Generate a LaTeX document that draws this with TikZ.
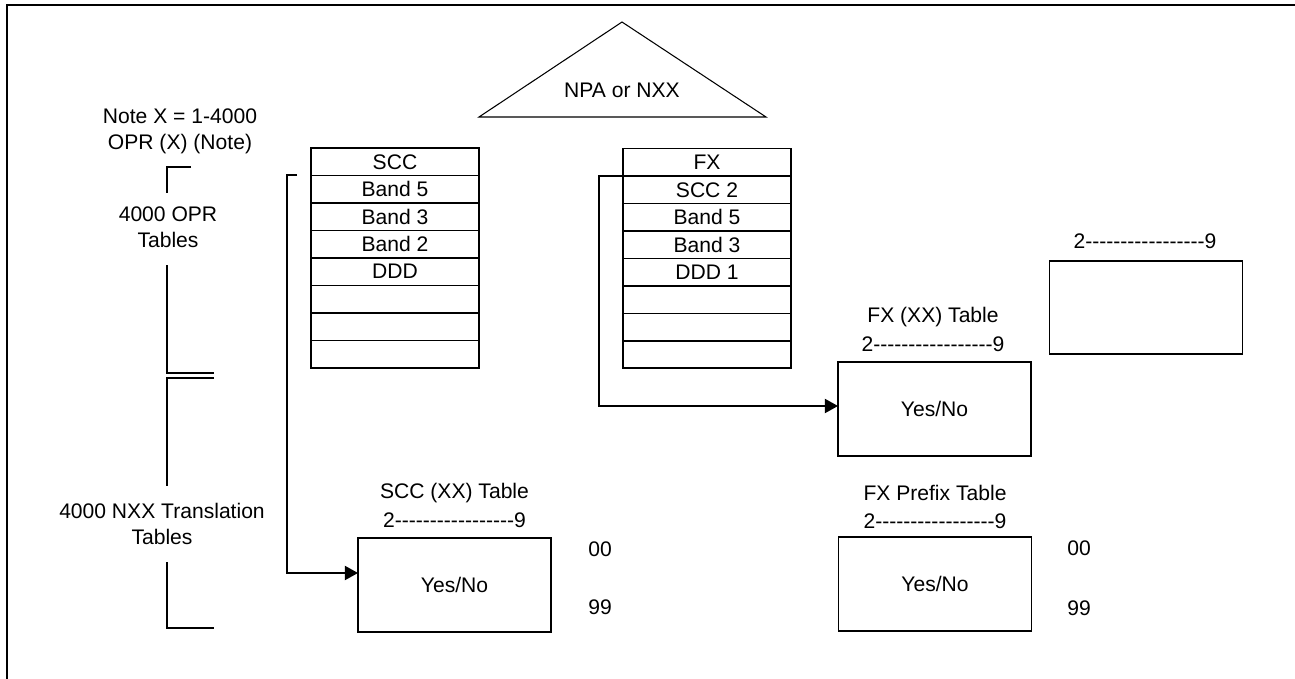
\documentclass[tikz,border=0pt]{standalone}
\usepackage{fontspec}
\setmainfont{Liberation Sans}[Ligatures=TeXOff]
\usetikzlibrary{arrows.meta,calc,positioning}
\tikzset{
  flowarrow/.style={-{Triangle[length=7.5pt,width=8pt]},line width=1.1pt,draw=black},
  frameline/.style={line width=1.2pt,draw=black},
  thinline/.style={line width=0.6pt,draw=black},
  txt/.style={inner sep=0pt,align=center,font=\fontsize{12}{15}\selectfont},
  cell/.style={draw,line width=1.1pt,outer sep=0pt,inner sep=0pt,minimum width=3.36cm,minimum height=0.55cm,
    font=\fontsize{12}{15}\selectfont},
  ynbox/.style={draw,line width=1.1pt,outer sep=0pt,minimum width=3.86cm,minimum height=1.87cm,
    font=\fontsize{12}{15}\selectfont},
}
\begin{document}
\begin{tikzpicture}[x=0.02cm,y=-0.02cm]
    \useasboundingbox (0,0) rectangle (1295,679);
    \draw[frameline] (7,679) -- (7,5) -- (1295,5);

    % selector
    \draw[thinline] (479,117) -- (622,22) -- (766,117) -- cycle;
    \node[txt] (npa) at (622,90) {NPA or NXX};

    % left side notes
    \node[txt] (note) at (180,131) {Note X = 1-4000\\OPR (X) (Note)};
    \node[txt] (oprtext) at (168,227) {4000 OPR\\Tables};
    \node[txt] (nxxtext) at (162,524) {4000 NXX Translation\\Tables};
    \draw[frameline] (191,167) -- (167,167) -- (167,193);
    \draw[frameline] (167,265) -- (167,373) -- (214,373);
    \draw[frameline] (214,378) -- (167,378) -- (167,486);
    \draw[frameline] (167,562) -- (167,628) -- (214,628);

    % SCC table
    \node[cell] (scc1) at (395,161.75) {SCC};
    \node[cell,below=0pt of scc1] (scc2) {Band 5};
    \node[cell,below=0pt of scc2] (scc3) {Band 3};
    \node[cell,below=0pt of scc3] (scc4) {Band 2};
    \node[cell,below=0pt of scc4] (scc5) {DDD};
    \node[cell,below=0pt of scc5] (scc6) {};
    \node[cell,below=0pt of scc6] (scc7) {};
    \node[cell,below=0pt of scc7] (scc8) {};

    % FX table
    \node[cell] (fx1) at (707,162.25) {FX};
    \node[cell,below=0pt of fx1] (fx2) {SCC 2};
    \node[cell,below=0pt of fx2] (fx3) {Band 5};
    \node[cell,below=0pt of fx3] (fx4) {Band 3};
    \node[cell,below=0pt of fx4] (fx5) {DDD 1};
    \node[cell,below=0pt of fx5] (fx6) {};
    \node[cell,below=0pt of fx6] (fx7) {};
    \node[cell,below=0pt of fx7] (fx8) {};

    % yes/no tables
    \node[ynbox] (sccyn) at (454.5,585) {Yes/No};
    \node[txt] (scctitle) at (454.5,493) {SCC (XX) Table};
    \node[txt] (sccrange) at (454.5,520) {2-----------------9};
    \node[txt] (sccfirst) at (600,549) {00};
    \node[txt] (scclast) at (600,607) {99};

    \node[ynbox] (fxxx) at (934.5,409) {Yes/No};
    \node[txt] (fxxxtitle) at (933,317) {FX (XX) Table};
    \node[txt] (fxxxrange) at (933,344) {2-----------------9};

    \node[ynbox] (blank) at (1146,307.5) {};
    \node[txt] (blankrange) at (1145,241) {2-----------------9};

    \node[ynbox] (fxpre) at (935,584) {Yes/No};
    \node[txt] (fxpretitle) at (935,493) {FX Prefix Table};
    \node[txt] (fxprerange) at (935,521) {2-----------------9};
    \node[txt] (fxprefirst) at (1079,548) {00};
    \node[txt] (fxprelast) at (1079,608) {99};

    \coordinate (sccstub) at (297,175);
    \draw[flowarrow] (sccstub) -- ++(-10,0) |- ($(sccyn.west)+(0,-12)$);
    \draw[flowarrow] (fx2.north west) -- ++(-24,0) |- ($(fxxx.west)+(0,-3)$);
  \end{tikzpicture}
\end{document}
